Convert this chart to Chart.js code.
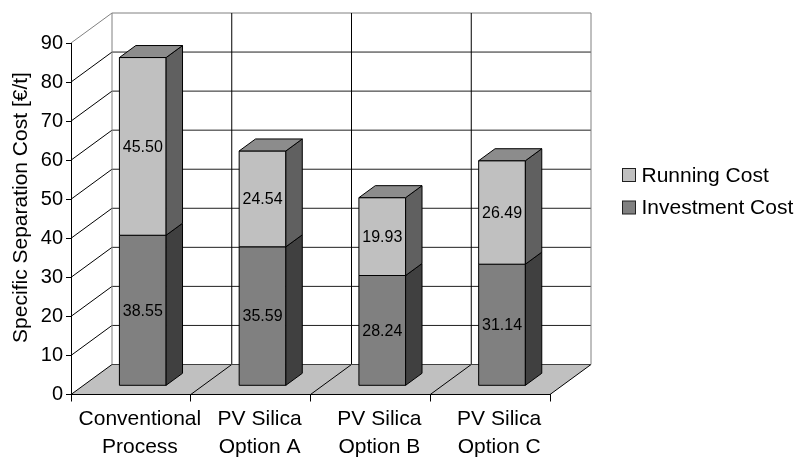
<!DOCTYPE html>
<html>
<head>
<meta charset="utf-8">
<script src="https://cdn.jsdelivr.net/npm/chart.js@4.4.1/dist/chart.umd.min.js"></script>
<style>
  html, body { margin: 0; padding: 0; background: #ffffff; }
  #wrap { width: 798px; height: 460px; }
</style>
</head>
<body>
<div id="wrap"><canvas id="c" width="798" height="460"></canvas></div>
<script>
// ---- data ----
const categories = [["Conventional", "Process"], ["PV Silica", "Option A"], ["PV Silica", "Option B"], ["PV Silica", "Option C"]];
const investmentCost = [38.55, 35.59, 28.24, 31.14];
const runningCost = [45.50, 24.54, 19.93, 26.49];
const seriesNames = ["Investment Cost", "Running Cost"];
const yMin = 0, yMax = 90, yStep = 10;
const axisTitle = "Specific Separation Cost [€/t]";

// ---- look ----
const FONT = '"Liberation Sans", Arial, sans-serif';
const DEPTH_X = 41, DEPTH_Y = 30;        // floor / wall depth offset
const BAR_NEAR = 0.29, BAR_FAR = 0.69;   // bar box position inside the depth
const shades = [
  { front: '#808080', side: '#404040', top: '#606060' },
  { front: '#c0c0c0', side: '#606060', top: '#8c8c8c' }
];
const EDGE = '#808080';

function seg(ctx, x1, y1, x2, y2, color) {
  ctx.beginPath();
  ctx.moveTo(x1, y1);
  ctx.lineTo(x2, y2);
  ctx.strokeStyle = color;
  ctx.lineWidth = 1;
  ctx.stroke();
}
function face(ctx, pts, fill, stroke) {
  ctx.beginPath();
  ctx.moveTo(pts[0][0], pts[0][1]);
  for (let i = 1; i < pts.length; i++) ctx.lineTo(pts[i][0], pts[i][1]);
  ctx.closePath();
  ctx.fillStyle = fill;
  ctx.fill();
  if (stroke) {
    ctx.strokeStyle = stroke;
    ctx.lineWidth = 1;
    ctx.stroke();
  }
}

// back wall, side wall and floor behind the axes
const wallsPlugin = {
  id: 'walls',
  beforeDraw(chart) {
    const { ctx, chartArea: a, scales: { y } } = chart;
    const n = categories.length;
    const cw = (a.right - a.left) / n;
    const y0 = y.getPixelForValue(yMin);
    const yTop = y.getPixelForValue(yMax);
    ctx.save();
    // floor
    face(ctx, [[a.left, y0], [a.right, y0], [a.right + DEPTH_X, y0 - DEPTH_Y], [a.left + DEPTH_X, y0 - DEPTH_Y]], '#c0c0c0');
    // horizontal grid on back wall + diagonals on side wall
    for (let v = yMin; v <= yMax; v += yStep) {
      const p = y.getPixelForValue(v);
      const c = v === yMax ? EDGE : '#000';
      seg(ctx, a.left + DEPTH_X, p - DEPTH_Y, a.right + DEPTH_X, p - DEPTH_Y, v === yMax ? EDGE : '#202020');
      seg(ctx, a.left, p, a.left + DEPTH_X, p - DEPTH_Y, c);
    }
    // vertical grid on back wall + floor dividers
    for (let i = 0; i <= n; i++) {
      const bx = a.left + i * cw;
      if (i > 0 && i < n) {
        seg(ctx, bx + DEPTH_X, y0 - DEPTH_Y, bx + DEPTH_X, yTop - DEPTH_Y, '#000');
      }
      if (i > 0) seg(ctx, bx, y0, bx + DEPTH_X, y0 - DEPTH_Y, '#000');
    }
    // wall edges
    seg(ctx, a.left + DEPTH_X, y0 - DEPTH_Y, a.left + DEPTH_X, yTop - DEPTH_Y, EDGE);
    seg(ctx, a.right + DEPTH_X, y0 - DEPTH_Y, a.right + DEPTH_X, yTop - DEPTH_Y, EDGE);
    seg(ctx, a.left + DEPTH_X, y0 - DEPTH_Y, a.right + DEPTH_X, y0 - DEPTH_Y, '#404040');
    ctx.restore();
  }
};

// 3D bar boxes, value labels, axis title and legend
const boxesPlugin = {
  id: 'boxes',
  beforeDatasetsDraw() { return false; },
  afterDraw(chart) {
    const ctx = chart.ctx;
    const ox = BAR_NEAR * DEPTH_X, oy = BAR_NEAR * DEPTH_Y;
    const dx = (BAR_FAR - BAR_NEAR) * DEPTH_X, dy = (BAR_FAR - BAR_NEAR) * DEPTH_Y;
    const nSets = chart.data.datasets.length;
    ctx.save();
    for (let i = 0; i < categories.length; i++) {
      for (let d = 0; d < nSets; d++) {
        const el = chart.getDatasetMeta(d).data[i];
        const p = el.getProps(['x', 'y', 'base', 'width'], true);
        const L = p.x - p.width / 2 + ox, R = p.x + p.width / 2 + ox;
        const T = p.y - oy, B = p.base - oy;
        const s = shades[d];
        face(ctx, [[L, T], [R, T], [R, B], [L, B]], s.front, '#000');
        face(ctx, [[R, T], [R + dx, T - dy], [R + dx, B - dy], [R, B]], s.side, '#000');
        if (d === nSets - 1) {
          face(ctx, [[L, T], [R, T], [R + dx, T - dy], [L + dx, T - dy]], s.top, '#000');
        }
        const v = chart.data.datasets[d].data[i];
        ctx.fillStyle = '#000';
        ctx.font = '16px ' + FONT;
        ctx.textAlign = 'center';
        ctx.textBaseline = 'middle';
        ctx.fillText(v.toFixed(2), (L + R) / 2, (T + B) / 2 + 1);
      }
    }
    // axis title
    ctx.save();
    ctx.translate(21, 207.5);
    ctx.rotate(-Math.PI / 2);
    ctx.font = '21px ' + FONT;
    ctx.fillStyle = '#000';
    ctx.textAlign = 'center';
    ctx.textBaseline = 'middle';
    ctx.fillText(axisTitle, 0, 0);
    ctx.restore();
    // legend (top series first)
    const order = [1, 0];
    order.forEach((d, k) => {
      const cy = 175 + k * 32.5;
      ctx.fillStyle = shades[d].front;
      ctx.fillRect(622.5, cy - 6.5, 13, 13);
      ctx.strokeStyle = '#202020';
      ctx.lineWidth = 1;
      ctx.strokeRect(622.5, cy - 6.5, 13, 13);
      ctx.fillStyle = '#000';
      ctx.font = '21px ' + FONT;
      ctx.textAlign = 'left';
      ctx.textBaseline = 'middle';
      ctx.fillText(chart.data.datasets[d].label, 641.5, cy + 1);
    });
    ctx.restore();
  }
};

Chart.defaults.color = '#000';
Chart.defaults.font.family = FONT;

new Chart(document.getElementById('c'), {
  type: 'bar',
  data: {
    labels: categories,
    datasets: [
      { label: seriesNames[0], data: investmentCost, backgroundColor: shades[0].front, barPercentage: 0.39, categoryPercentage: 1 },
      { label: seriesNames[1], data: runningCost, backgroundColor: shades[1].front, barPercentage: 0.39, categoryPercentage: 1 }
    ]
  },
  options: {
    responsive: false,
    animation: false,
    events: [],
    layout: { padding: { top: 43, right: 248, left: 0, bottom: 0 } },
    plugins: { legend: { display: false }, tooltip: { enabled: false } },
    scales: {
      x: {
        stacked: true,
        offset: true,
        grid: { display: true, drawOnChartArea: false, drawTicks: true, tickLength: 7, color: '#000', offset: true },
        border: { display: true, color: '#000' },
        ticks: { font: { family: FONT, size: 21, lineHeight: 1.36 }, color: '#000', labelOffset: 9, padding: 3, maxRotation: 0, autoSkip: false },
        afterFit(s) { s.height = 65.5; }
      },
      y: {
        stacked: true,
        min: yMin,
        max: yMax,
        ticks: { stepSize: yStep, font: { family: FONT, size: 20 }, color: '#000', padding: 3 },
        grid: { display: true, drawOnChartArea: false, tickLength: 5, color: '#000' },
        border: { display: true, color: '#000' },
        afterFit(s) { s.width = 71; }
      }
    }
  },
  plugins: [wallsPlugin, boxesPlugin]
});
</script>
</body>
</html>
